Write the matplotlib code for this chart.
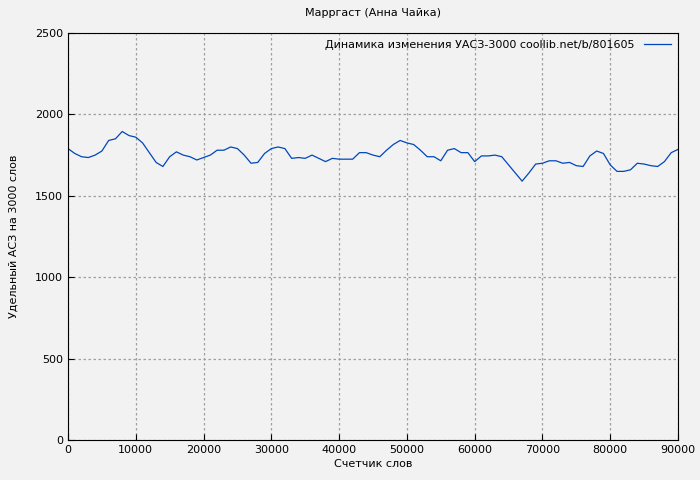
import matplotlib
matplotlib.use("Agg")
import matplotlib.pyplot as plt

x = [0,1000,2000,3000,4000,5000,6000,7000,8000,9000,10000,11000,12000,13000,14000,15000,16000,17000,18000,19000,
     20000,21000,22000,23000,24000,25000,26000,27000,28000,29000,30000,31000,32000,33000,34000,35000,36000,37000,38000,39000,
     40000,41000,42000,43000,44000,45000,46000,47000,48000,49000,50000,51000,52000,53000,54000,55000,56000,57000,58000,59000,
     60000,61000,62000,63000,64000,65000,66000,67000,68000,69000,70000,71000,72000,73000,74000,75000,76000,77000,78000,79000,
     80000,81000,82000,83000,84000,85000,86000,87000,88000,89000,90000]
y = [1790,1760,1740,1735,1750,1775,1840,1850,1895,1870,1860,1825,1765,1705,1680,1740,1770,1750,1740,1720,
     1735,1750,1780,1780,1800,1790,1750,1700,1705,1760,1790,1800,1790,1730,1735,1730,1750,1730,1710,1730,
     1725,1725,1725,1765,1765,1750,1740,1780,1815,1840,1825,1815,1780,1740,1740,1715,1780,1790,1765,1765,
     1710,1745,1745,1750,1740,1690,1640,1590,1640,1695,1700,1715,1715,1700,1705,1685,1680,1745,1775,1760,
     1690,1650,1650,1660,1700,1695,1685,1680,1710,1765,1785]

fig = plt.figure(figsize=(7, 4.8), dpi=100, facecolor="#f2f2f2")
ax = fig.add_axes([68/700, 40/480, 610/700, 407/480], facecolor="#f2f2f2")
ax.plot(x, y, color="#0047bb", lw=0.9, label="Динамика изменения УАСЗ-3000 coollib.net/b/801605")
ax.set_xlim(0, 90000)
ax.set_ylim(0, 2500)
ax.set_xticks(range(0, 90001, 10000))
ax.set_yticks(range(0, 2501, 500))
ax.grid(True, color="#a0a0a0", ls=(0, (2, 2)), lw=0.9)
ax.tick_params(labelsize=8, direction="in", length=4)
for s in ax.spines.values():
    s.set_color("black")
ax.set_xlabel("Счетчик слов", fontsize=8, labelpad=3)
ax.set_ylabel("Удельный АСЗ на 3000 слов", fontsize=8, labelpad=12)
ax.set_title("Марргаст (Анна Чайка)", fontsize=8, pad=12)
leg = ax.legend(loc="upper right", fontsize=8, frameon=False, markerfirst=False,
                handlelength=2.5, borderaxespad=0.2)
fig.savefig("out.png", dpi=100, facecolor=fig.get_facecolor())
